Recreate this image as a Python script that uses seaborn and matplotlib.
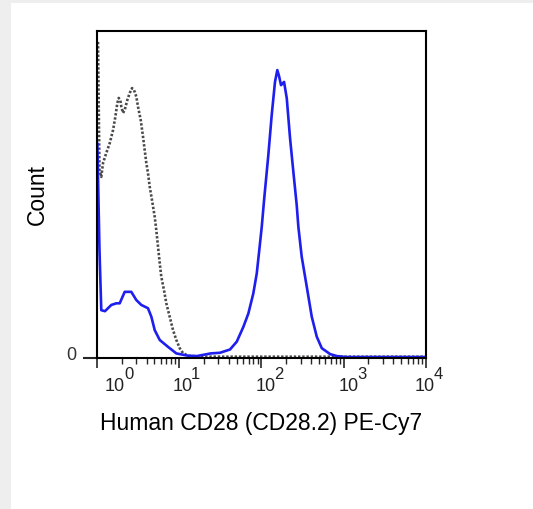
import matplotlib
matplotlib.use('Agg')
import matplotlib.pyplot as plt
from matplotlib.patches import Rectangle
from matplotlib.ticker import LogLocator, NullFormatter
from matplotlib.transforms import ScaledTranslation
import numpy as np
import seaborn as sns

sns.set_style('ticks')
plt.rcParams['font.family'] = ['Liberation Sans', 'DejaVu Sans']

# CD28 stained cells (blue): log10 of PE-Cy7 intensity, count as % of axis max
cd28_log = [0.004, 0.030, 0.052, 0.097, 0.174, 0.235, 0.276, 0.337, 0.417, 0.478,
            0.539, 0.620, 0.661, 0.702, 0.763, 0.864, 0.965, 1.107, 1.217, 1.383,
            1.496, 1.618, 1.700, 1.780, 1.841, 1.901, 1.943, 1.974, 2.004, 2.032,
            2.084, 2.125, 2.165, 2.193, 2.214, 2.238, 2.275, 2.308, 2.348, 2.388,
            2.429, 2.449, 2.490, 2.551, 2.612, 2.673, 2.734, 2.835, 2.916, 3.02,
            3.5, 4.0]
cd28_count = [65.7, 33.1, 14.7, 14.4, 16.3, 16.8, 16.8, 20.3, 20.3, 17.8,
              16.3, 15.3, 12.7, 8.6, 5.6, 3.5, 1.5, 0.8, 0.7, 1.5,
              1.7, 2.7, 5.1, 9.6, 13.7, 19.8, 25.9, 33.1, 40.2, 48.3,
              62.1, 74.3, 84.4, 88.0, 86.2, 83.4, 84.4, 79.4, 67.2, 57.0,
              46.8, 40.2, 31.0, 21.9, 12.7, 6.6, 3.1, 1.3, 0.7, 0.4,
              0.4, 0.4]

# isotype control (grey dotted)
iso_log = [0.012, 0.030, 0.052, 0.073, 0.113, 0.155, 0.195, 0.223, 0.247, 0.264,
           0.283, 0.296, 0.316, 0.337, 0.369, 0.398, 0.426, 0.450, 0.478, 0.499,
           0.532, 0.560, 0.580, 0.600, 0.620, 0.641, 0.669, 0.702, 0.721, 0.742,
           0.763, 0.782, 0.815, 0.843, 0.884, 0.925, 0.965, 1.006, 1.046, 1.107,
           1.25, 2.0, 3.0, 4.0]
iso_count = [96.6, 57.4, 55.4, 59.6, 62.7, 65.7, 69.7, 73.7, 77.9, 79.5,
             78.9, 76.8, 74.9, 75.8, 78.9, 81.0, 82.5, 81.9, 79.9, 76.8,
             72.7, 67.6, 63.6, 59.6, 56.6, 52.4, 48.3, 43.2, 39.2, 34.1,
             29.1, 24.9, 20.8, 16.8, 12.7, 8.6, 5.6, 3.1, 1.6, 0.8,
             0.5, 0.5, 0.5, 0.5]

decades = [0, 1, 2, 3, 4]

fig = plt.figure(figsize=(5.33, 5.09), dpi=100)
fig.patch.set_facecolor('#eeeeee')
fig.add_artist(Rectangle((11 / 533, 0), 1, 506 / 509, transform=fig.transFigure,
                         facecolor='white', edgecolor='none', zorder=-10))

ax = fig.add_axes([0.182, 0.296, 0.617, 0.6435])

sns.lineplot(x=10 ** np.array(iso_log), y=iso_count, ax=ax, color='#4a4a4a',
             lw=1.9, linestyle=(0, (0.9, 0.7)), sort=False, estimator=None)
sns.lineplot(x=10 ** np.array(cd28_log), y=cd28_count, ax=ax, color='#1e1eee',
             lw=1.9, sort=False, estimator=None)

ax.set_xscale('log')
ax.set_xlim(1, 1e4)
ax.set_ylim(0, 100)

for s in ax.spines.values():
    s.set_visible(True)
    s.set_linewidth(1.5)
    s.set_color('black')

ax.set_xticks([10 ** d for d in decades])
ax.xaxis.set_minor_locator(LogLocator(base=10, subs=range(2, 10)))
ax.xaxis.set_minor_formatter(NullFormatter())
ax.tick_params(axis='x', which='major', length=7, width=1.2, direction='out',
               labelbottom=False)
ax.tick_params(axis='x', which='minor', length=4, width=1.0, direction='out')

ax.set_yticks([0])
ax.set_yticklabels(['0'])
ax.tick_params(axis='y', length=10, width=1.5, pad=5, labelsize=13,
               labelcolor='#333333')
for lbl in ax.get_yticklabels():
    lbl.set_transform(lbl.get_transform() + ScaledTranslation(0, 0.05, fig.dpi_scale_trans))

# decade labels: "10" with a near full-size exponent
label_dx = [8, -7, -6, -5, -11]
for d, dx in zip(decades, label_dx):
    ax.annotate('10', xy=(10 ** d, 0), xycoords=('data', 'axes fraction'),
                xytext=(dx, -33), textcoords='offset pixels', ha='left',
                va='baseline', fontsize=13, color='#222222', annotation_clip=False)
    ax.annotate(str(d), xy=(10 ** d, 0), xycoords=('data', 'axes fraction'),
                xytext=(dx + 19, -21), textcoords='offset pixels', ha='left',
                va='baseline', fontsize=12, color='#222222', annotation_clip=False)

ax.set_xlabel('Human CD28 (CD28.2) PE-Cy7', fontsize=16.5, color='black')
ax.xaxis.set_label_coords(0.5, -0.165)
ax.set_ylabel('Count', fontsize=16.5, color='black')
ax.yaxis.set_label_coords(-0.147, 0.5)

fig.savefig('out.png', dpi=100, facecolor=fig.get_facecolor())
